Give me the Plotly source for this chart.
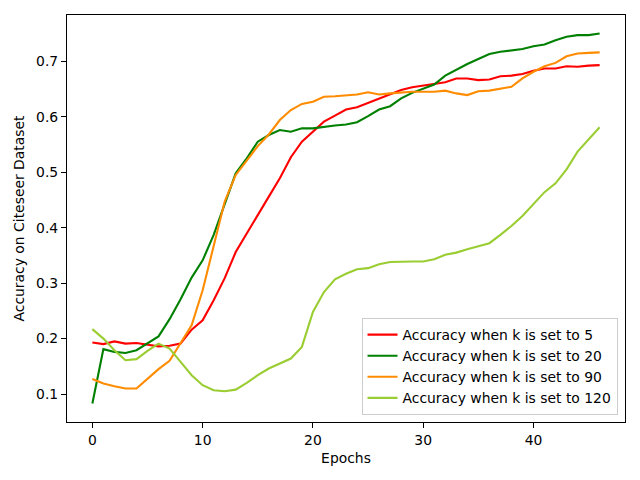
import plotly.graph_objs as go

epochs = list(range(47))

acc_k5 = [0.193, 0.190, 0.195, 0.191, 0.192, 0.189, 0.186, 0.187, 0.191, 0.216,
          0.233, 0.269, 0.309, 0.356, 0.390, 0.423, 0.456, 0.489, 0.527, 0.555,
          0.573, 0.591, 0.602, 0.613, 0.617, 0.625, 0.633, 0.640, 0.648, 0.653,
          0.656, 0.659, 0.662, 0.669, 0.669, 0.666, 0.667, 0.673, 0.674, 0.677,
          0.683, 0.687, 0.687, 0.691, 0.690, 0.692, 0.693]

acc_k20 = [0.083, 0.181, 0.176, 0.174, 0.179, 0.191, 0.204, 0.235, 0.271, 0.310,
           0.341, 0.387, 0.444, 0.498, 0.525, 0.555, 0.567, 0.576, 0.573, 0.579,
           0.579, 0.582, 0.584, 0.586, 0.590, 0.601, 0.613, 0.619, 0.633, 0.643,
           0.650, 0.658, 0.674, 0.685, 0.695, 0.704, 0.713, 0.717, 0.720, 0.722,
           0.727, 0.730, 0.738, 0.744, 0.747, 0.747, 0.750]

acc_k90 = [0.127, 0.119, 0.114, 0.110, 0.110, 0.127, 0.145, 0.160, 0.191, 0.224,
           0.287, 0.368, 0.447, 0.495, 0.522, 0.547, 0.568, 0.594, 0.612, 0.623,
           0.627, 0.636, 0.637, 0.638, 0.640, 0.644, 0.640, 0.642, 0.644, 0.645,
           0.645, 0.645, 0.647, 0.642, 0.639, 0.646, 0.647, 0.650, 0.654, 0.669,
           0.681, 0.691, 0.697, 0.709, 0.714, 0.715, 0.716]

acc_k120 = [0.217, 0.200, 0.179, 0.161, 0.163, 0.178, 0.191, 0.182, 0.158, 0.134,
            0.116, 0.107, 0.105, 0.108, 0.120, 0.134, 0.146, 0.155, 0.164, 0.185,
            0.248, 0.284, 0.307, 0.317, 0.325, 0.327, 0.334, 0.338, 0.339, 0.339,
            0.339, 0.343, 0.351, 0.355, 0.361, 0.367, 0.372, 0.387, 0.403, 0.421,
            0.442, 0.464, 0.480, 0.505, 0.537, 0.559, 0.581]

series = [
    ("Accuracy when k is set to 5", acc_k5, "red"),
    ("Accuracy when k is set to 20", acc_k20, "green"),
    ("Accuracy when k is set to 90", acc_k90, "darkorange"),
    ("Accuracy when k is set to 120", acc_k120, "yellowgreen"),
]

fig = go.Figure()
for name, vals, color in series:
    fig.add_trace(go.Scatter(
        x=epochs, y=vals, mode="lines", name=name,
        line=dict(color=color, width=2.1),
    ))

# matplotlib-style 5% margins
all_vals = acc_k5 + acc_k20 + acc_k90 + acc_k120
ymin, ymax = min(all_vals), max(all_vals)
ypad = (ymax - ymin) * 0.05
xpad = (epochs[-1] - epochs[0]) * 0.05

axis_style = dict(
    showline=True, linecolor="black", linewidth=1.1, mirror=True,
    ticks="outside", ticklen=5, tickwidth=1.1, tickcolor="black",
    showgrid=False, zeroline=False, automargin=False,
    tickfont=dict(size=13.9, color="black"),
)

# page body has an 8px margin, so the figure is shrunk to fit the window
fig.update_layout(
    width=624, height=464,
    margin=dict(l=58.5, r=6.5, t=7, b=50),
    paper_bgcolor="white", plot_bgcolor="white",
    font=dict(family="DejaVu Sans", size=13.9, color="black"),
    xaxis=dict(range=[epochs[0] - xpad, epochs[-1] + xpad], tickvals=[0, 10, 20, 30, 40],
               title=dict(text="Epochs", font=dict(size=13.9), standoff=6), **axis_style),
    yaxis=dict(range=[ymin - ypad, ymax + ypad], dtick=0.1, tickformat=".1f",
               title=dict(text="Accuracy on Citeseer Dataset", font=dict(size=13.9), standoff=8),
               **axis_style),
    legend=dict(
        x=0.9866, y=0.017, xanchor="right", yanchor="bottom",
        bgcolor="rgba(255,255,255,0.8)", bordercolor="#cccccc", borderwidth=1,
        font=dict(size=13.9),
    ),
    showlegend=True,
)

fig.write_html("out.html")
